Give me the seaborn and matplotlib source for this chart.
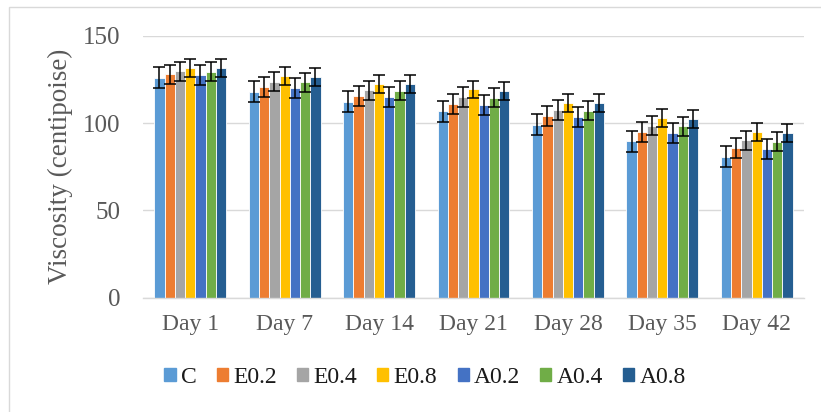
import numpy as np
import pandas as pd
import matplotlib
matplotlib.use("Agg")
import matplotlib.pyplot as plt
import matplotlib.patches as mpatches
import seaborn as sns

days = ["Day 1", "Day 7", "Day 14", "Day 21", "Day 28", "Day 35", "Day 42"]
groups = ["C", "E0.2", "E0.4", "E0.8", "A0.2", "A0.4", "A0.8"]

c_vals = [125.9, 117.8, 112.1, 106.7, 98.9, 89.5, 80.6]
e02_vals = [127.8, 120.7, 115.3, 110.9, 103.8, 94.8, 85.6]
e04_vals = [129.7, 123.6, 118.8, 114.9, 107.5, 98.5, 90.0]
e08_vals = [131.6, 127.0, 122.4, 119.2, 111.5, 102.7, 95.0]
a02_vals = [127.6, 120.1, 115.1, 110.3, 103.3, 94.3, 85.3]
a04_vals = [129.3, 123.4, 118.4, 114.4, 107.1, 98.1, 89.3]
a08_vals = [131.4, 126.4, 122.2, 118.4, 111.3, 102.3, 94.4]

# error bar half-lengths per group
errors = [6.0, 5.7, 5.5, 5.1, 5.7, 5.5, 5.2]

colors = ["#5B9BD5", "#ED7D31", "#A5A5A5", "#FFC000", "#4472C4", "#70AD47", "#255E91"]

series = [c_vals, e02_vals, e04_vals, e08_vals, a02_vals, a04_vals, a08_vals]
rows = []
for g, vals, err in zip(groups, series, errors):
    for d, v in zip(days, vals):
        rows.append({"day": d, "group": g, "value": v, "err": err})
df = pd.DataFrame(rows)

sns.set_theme(style="white")
plt.rcParams["font.family"] = ["Liberation Serif", "DejaVu Serif"]
text_color = "#595959"

fig = plt.figure(figsize=(8.21, 4.12), dpi=100)
ax = fig.add_axes([0.1742, 0.2774, 0.805, 0.636])

sns.barplot(data=df, x="day", y="value", hue="group", order=days, hue_order=groups,
            palette=colors, saturation=1, width=0.76, errorbar=None, edgecolor="white",
            linewidth=0.6, legend=False, ax=ax)

# error bars at the bar centres seaborn laid out
for gi, g in enumerate(groups):
    cont = ax.containers[gi]
    xs = [p.get_x() + p.get_width() / 2 for p in cont.patches]
    sub = df[df["group"] == g].set_index("day").loc[days]
    ax.errorbar(xs, sub["value"], yerr=sub["err"], fmt="none", ecolor="black",
                elinewidth=1.1, capsize=4.5, capthick=1.1, zorder=5)

ax.set_ylim(0, 150)
ax.set_yticks([0, 50, 100, 150])
ax.set_xlim(-0.5, len(days) - 0.5)
ax.grid(axis="y", color="#d9d9d9", linewidth=1)
ax.set_axisbelow(True)
for s in ["top", "right", "left"]:
    ax.spines[s].set_visible(False)
ax.spines["bottom"].set_color("#d9d9d9")
ax.spines["bottom"].set_linewidth(1)

ax.set_xlabel("")
ax.set_ylabel("Viscosity (centipoise)", fontsize=19.5, color=text_color, labelpad=7)
ax.tick_params(axis="y", length=0, labelsize=18, labelcolor=text_color, pad=16.5)
ax.tick_params(axis="x", which="major", length=0, labelsize=17, labelcolor=text_color, pad=12)
ax.set_xticks(np.arange(-0.5, len(days), 1.0), minor=True)
ax.tick_params(axis="x", which="minor", length=6, color="#d9d9d9", width=1)

handles = [mpatches.Patch(color=c, label=g) for g, c in zip(groups, colors)]
fig.legend(handles=handles, loc="center", bbox_to_anchor=(0.518, 0.0837), ncol=7,
           frameon=False, fontsize=17, handlelength=0.47, handleheight=0.47,
           handletextpad=0.23, columnspacing=0.85, labelcolor="#1a1a1a",
           borderpad=0.2)

fig.patches.append(mpatches.Rectangle((9 / 821, -0.1), 1.2, 1.1 - 7 / 412,
                                      transform=fig.transFigure, fill=False,
                                      edgecolor="#d9d9d9", linewidth=1))

fig.savefig("out.png", dpi=100)
